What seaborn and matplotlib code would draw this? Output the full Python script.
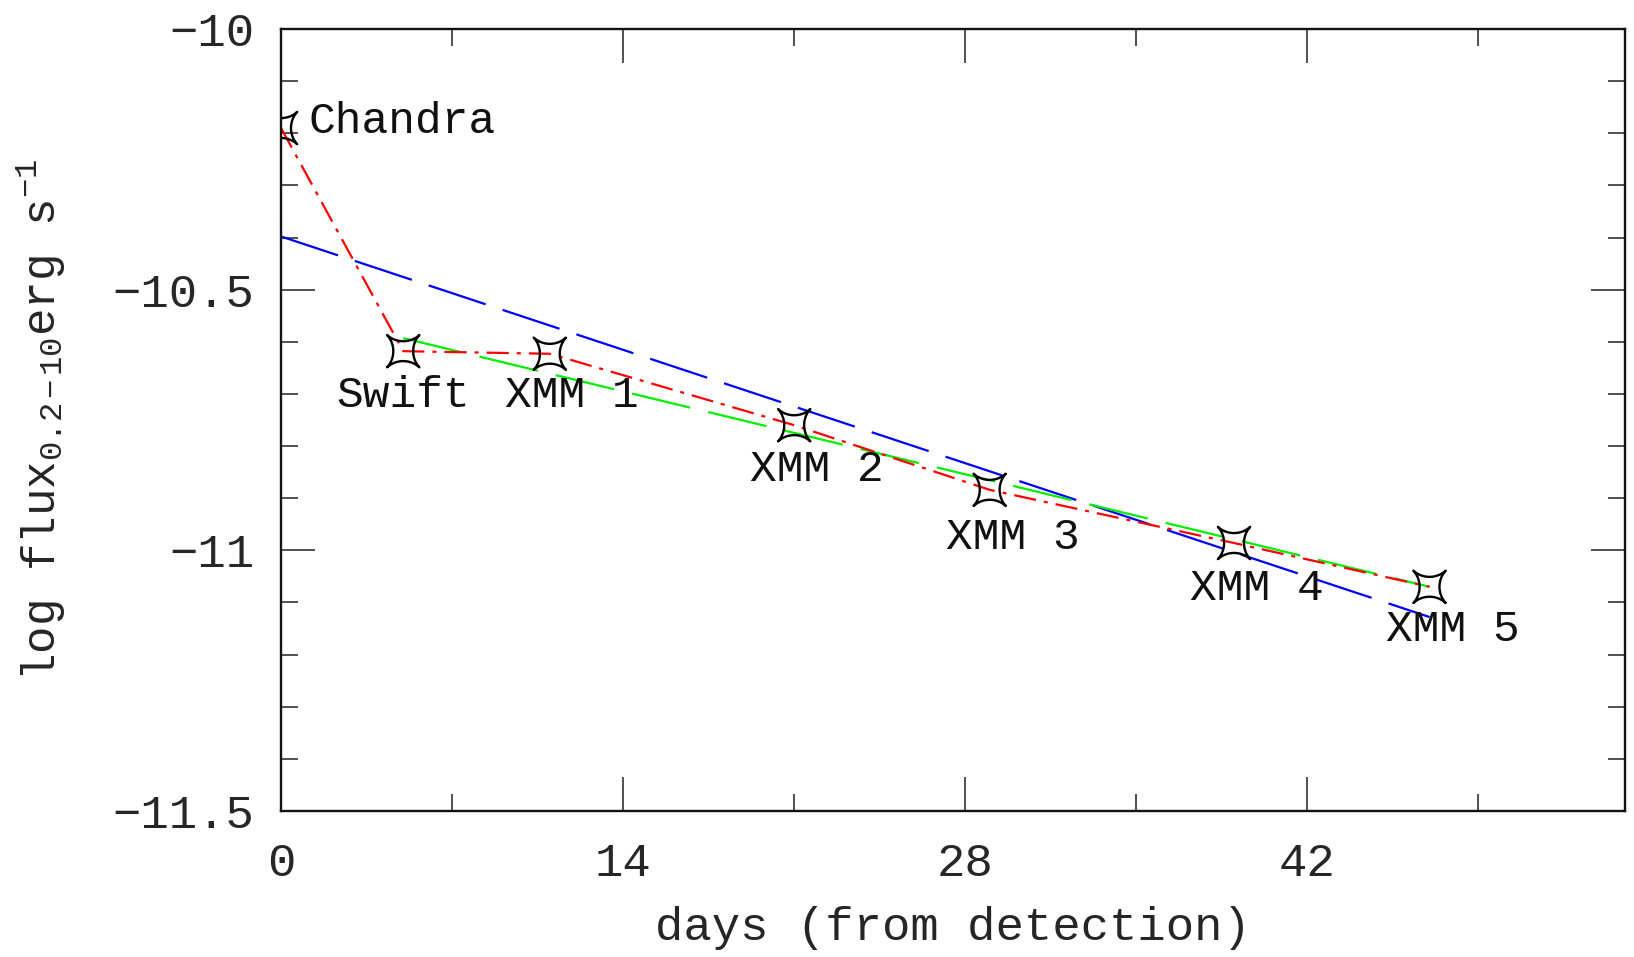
import numpy as np
import pandas as pd
import matplotlib
matplotlib.use("Agg")
import matplotlib.pyplot as plt
from matplotlib.path import Path
from matplotlib.ticker import FixedLocator, FixedFormatter, MultipleLocator
import seaborn as sns

# Observations: days since detection and log 0.2-10 keV flux
obs_names = ["Chandra", "Swift", "XMM 1", "XMM 2", "XMM 3", "XMM 4", "XMM 5"]
obs_days = [0, 5, 11, 21, 29, 39, 47]
obs_logflux = [-10.19, -10.618, -10.623, -10.76, -10.884, -10.986, -11.07]

# Linear decay fits (end points)
fit_all_days = [0, 47]
fit_all_logflux = [-10.398, -11.128]
fit_late_days = [5, 47]
fit_late_logflux = [-10.593, -11.07]

xtick_values = [0, 14, 28, 42]
xtick_labels = ["0", "14", "28", "42"]
ytick_values = [-11.5, -11.0, -10.5, -10.0]
ytick_labels = ["\u221211.5", "\u221211", "\u221210.5", "\u221210"]

# Label placement relative to each star (offset points)
label_offsets = [(19.5, 4.5), (0, -32), (16, -30), (16.5, -32), (16.5, -34), (16.5, -33), (17, -31)]
label_ha = ["left", "center", "center", "center", "center", "center", "center"]

sns.set_style("ticks")
FONT = "Liberation Mono"
plt.rcParams["font.family"] = [FONT, "DejaVu Serif"]
plt.rcParams["mathtext.fontset"] = "custom"
plt.rcParams["mathtext.rm"] = FONT
plt.rcParams["mathtext.it"] = FONT
plt.rcParams["mathtext.default"] = "rm"

fig = plt.figure(figsize=(16.34, 9.57), dpi=100)
ax = fig.add_axes([0.172, 0.1526, 0.8225, 0.8171])

obs = pd.DataFrame({"days": obs_days, "logflux": obs_logflux})
fit_all = pd.DataFrame({"days": fit_all_days, "logflux": fit_all_logflux})
fit_late = pd.DataFrame({"days": fit_late_days, "logflux": fit_late_logflux})

lw = 1.6
sns.lineplot(data=fit_all, x="days", y="logflux", ax=ax, color="#0000ff",
             linewidth=lw, linestyle=(0, (27, 8)), errorbar=None, sort=False)
sns.lineplot(data=fit_late, x="days", y="logflux", ax=ax, color="#00ee00",
             linewidth=lw, linestyle=(0, (27, 8.3)), errorbar=None, sort=False)
sns.lineplot(data=obs, x="days", y="logflux", ax=ax, color="#ff0000",
             linewidth=lw, linestyle=(0, (10, 3.6, 1.8, 3.6)), errorbar=None, sort=False)

# Four-pointed star with concave sides, tips on the diagonals
t = np.linspace(0, 2 * np.pi, 161)
p = 3.4
sx = np.sign(np.cos(t)) * np.abs(np.cos(t)) ** p
sy = np.sign(np.sin(t)) * np.abs(np.sin(t)) ** p
ang = np.pi / 4
vx = sx * np.cos(ang) - sy * np.sin(ang)
vy = sx * np.sin(ang) + sy * np.cos(ang)
star = Path(np.column_stack([vx, vy]), closed=True)

sns.scatterplot(data=obs, x="days", y="logflux", ax=ax, marker=star, s=540,
                facecolor="none", edgecolor="black", linewidth=1.7, zorder=5)

for name, dx, dy, (ox, oy), ha in zip(obs_names, obs_days, obs_logflux, label_offsets, label_ha):
    ax.annotate(name, xy=(dx, dy), xytext=(ox, oy), textcoords="offset points",
                ha=ha, va="center", fontsize=32, color="#111111")

ax.set_xlim(0, 55)
ax.set_ylim(-11.5, -10.0)
ax.xaxis.set_major_locator(FixedLocator(xtick_values))
ax.xaxis.set_major_formatter(FixedFormatter(xtick_labels))
ax.xaxis.set_minor_locator(MultipleLocator(7))
ax.yaxis.set_major_locator(FixedLocator(ytick_values))
ax.yaxis.set_major_formatter(FixedFormatter(ytick_labels))
ax.yaxis.set_minor_locator(MultipleLocator(0.1))

ax.tick_params(which="both", direction="in", top=True, right=True, width=1.1, color="#222222")
ax.tick_params(which="major", length=24.5)
ax.tick_params(which="minor", length=12)
ax.tick_params(axis="x", which="major", pad=22, labelsize=34)
ax.tick_params(axis="y", which="major", pad=19, labelsize=34)

for sp in ax.spines.values():
    sp.set_linewidth(1.7)
    sp.set_color("#111111")

ax.set_xlabel("days (from detection)", fontsize=34)
ax.set_ylabel(r"log flux$_{0.2-10}$erg s$^{-1}$", fontsize=33)
ax.xaxis.set_label_coords(0.5, -0.15)
ax.xaxis.label.set_va("center")
ax.yaxis.set_label_coords(-0.178, 0.5)
ax.yaxis.label.set_va("center")

fig.savefig("out.png", dpi=100)
